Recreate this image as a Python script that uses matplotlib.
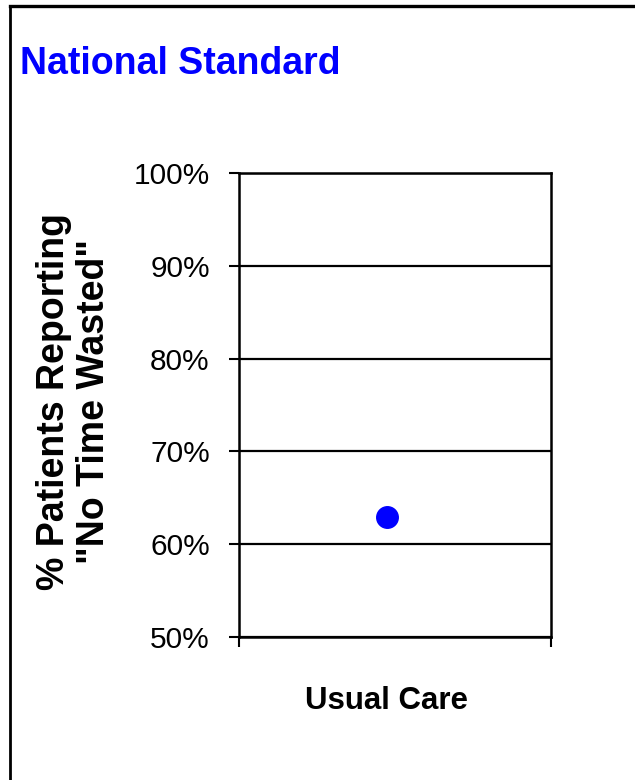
import matplotlib
matplotlib.use("Agg")
import matplotlib.pyplot as plt
from matplotlib.lines import Line2D
from matplotlib.ticker import FixedLocator, PercentFormatter

plt.rcParams['font.family'] = ['Liberation Sans', 'DejaVu Sans']

# Data
categories = ["Usual Care"]
values = [62.9]          # % patients reporting "no time wasted"
y_ticks = [50, 60, 70, 80, 90, 100]

W, H = 635, 780
fig = plt.figure(figsize=(W / 100, H / 100), dpi=100)
fig.patch.set_facecolor("white")

# Outer frame (top and left edges)
fig.add_artist(Line2D([9.5 / W, 1.0], [1 - 5.5 / H, 1 - 5.5 / H],
                      transform=fig.transFigure, color="black", lw=2.4))
fig.add_artist(Line2D([9.5 / W, 9.5 / W], [0.0, 1 - 5.5 / H],
                      transform=fig.transFigure, color="black", lw=2.0))

ax = fig.add_axes([239 / W, 1 - 637 / H, (551 - 239) / W, (637 - 173) / H])

xpos = list(range(1, len(categories) + 1))
ax.plot(xpos, values, linestyle="none", marker="o", markersize=15.5,
        color="#0000FF", markeredgecolor="#0000FF", zorder=3)

ax.set_ylim(y_ticks[0], y_ticks[-1])
ax.set_yticks(y_ticks)
ax.yaxis.set_major_formatter(PercentFormatter(decimals=0))
ax.set_xlim(0.5, 1.555)

# Category boundary ticks below the axis, label centred on the point
ax.set_xticks([0.5, 1.555])
ax.set_xticklabels(["", ""])
ax.xaxis.set_minor_locator(FixedLocator(xpos))
ax.set_xticklabels(categories, minor=True, fontsize=22.5, fontweight="bold")
ax.tick_params(axis="x", which="major", direction="out", length=7.5, width=1.5)
ax.tick_params(axis="x", which="minor", length=0, pad=35)

ax.tick_params(axis="y", direction="out", length=7.5, width=1.5,
               labelsize=21.5, pad=13.5)

ax.grid(axis="y", color="black", linewidth=1.6)
ax.set_axisbelow(True)
for side in ["left", "bottom", "right", "top"]:
    ax.spines[side].set_linewidth(1.8)
    ax.spines[side].set_color("black")

fig.text(36.5 / W, 0.485, "% Patients Reporting\n\"No Time Wasted\"",
         rotation=90, ha="left", va="center", fontsize=27,
         fontweight="bold", linespacing=1.12, multialignment="center",
         transform=fig.transFigure)

fig.text(20 / W, 1 - 74 / H, "National Standard", color="#0000FF",
         fontsize=27, fontweight="bold", ha="left", va="baseline")

fig.savefig("out.png", dpi=100, facecolor="white")
